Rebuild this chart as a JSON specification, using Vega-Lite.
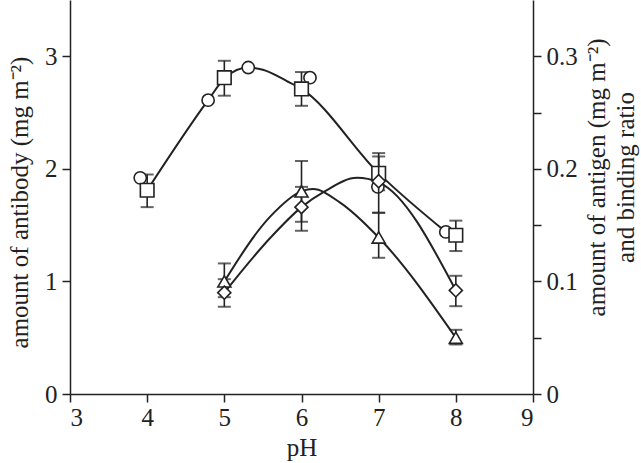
{
  "$schema": "https://vega.github.io/schema/vega-lite/v6.json",
  "width": 463,
  "height": 394,
  "autosize": {"type": "none"},
  "padding": {"left": 70, "top": 0, "right": 108, "bottom": 69},
  "background": "white",
  "config": {
    "view": {"stroke": null},
    "font": "Liberation Serif",
    "axis": {
      "grid": false,
      "domainColor": "#222",
      "domainWidth": 1.5,
      "tickColor": "#222",
      "tickWidth": 1.5,
      "tickSize": 8,
      "labelFont": "Liberation Serif",
      "labelFontSize": 25,
      "labelColor": "#222",
      "labelPadding": 5,
      "titleFont": "Liberation Serif",
      "titleFontSize": 25,
      "titleFontWeight": "normal",
      "titleColor": "#222"
    }
  },
  "datasets": {
    "antibody_sq": [
      {"pH": 4, "v": 1.81, "lo": 1.66, "hi": 1.95},
      {"pH": 5, "v": 2.81, "lo": 2.65, "hi": 2.96},
      {"pH": 6, "v": 2.71, "lo": 2.56, "hi": 2.86},
      {"pH": 7, "v": 1.96, "lo": 1.81, "hi": 2.11},
      {"pH": 8, "v": 1.41, "lo": 1.27, "hi": 1.54}
    ],
    "antibody_circ": [
      {"pH": 3.91, "v": 1.92},
      {"pH": 4.79, "v": 2.61},
      {"pH": 5.31, "v": 2.9},
      {"pH": 6.11, "v": 2.81},
      {"pH": 6.99, "v": 1.84},
      {"pH": 7.87, "v": 1.44}
    ],
    "antibody_curve": [
      {"pH": 4.0, "v": 1.81},
      {"pH": 4.79, "v": 2.61},
      {"pH": 5.01, "v": 2.81},
      {"pH": 5.31, "v": 2.9},
      {"pH": 5.5, "v": 2.88},
      {"pH": 5.81, "v": 2.78},
      {"pH": 6.0, "v": 2.71},
      {"pH": 7.0, "v": 1.96},
      {"pH": 7.87, "v": 1.44}
    ],
    "antigen": [
      {"series": "tri", "pH": 5, "v": 0.1, "lo": 0.086, "hi": 0.116},
      {"series": "tri", "pH": 6, "v": 0.18, "lo": 0.153, "hi": 0.207},
      {"series": "tri", "pH": 7, "v": 0.139, "lo": 0.121, "hi": 0.161},
      {"series": "tri", "pH": 8, "v": 0.05, "lo": 0.044, "hi": 0.057},
      {"series": "dia", "pH": 5, "v": 0.09, "lo": 0.0775, "hi": 0.102},
      {"series": "dia", "pH": 6, "v": 0.166, "lo": 0.145, "hi": 0.184},
      {"series": "dia", "pH": 7, "v": 0.189, "lo": 0.161, "hi": 0.214},
      {"series": "dia", "pH": 8, "v": 0.092, "lo": 0.078, "hi": 0.105}
    ],
    "antigen_curve": [
      {"series": "tri", "pH": 5, "v": 0.1},
      {"series": "tri", "pH": 5.6, "v": 0.158},
      {"series": "tri", "pH": 6.0, "v": 0.18},
      {"series": "tri", "pH": 6.15, "v": 0.182},
      {"series": "tri", "pH": 6.5, "v": 0.17},
      {"series": "tri", "pH": 7.0, "v": 0.139},
      {"series": "tri", "pH": 8.0, "v": 0.05},
      {"series": "dia", "pH": 5, "v": 0.09},
      {"series": "dia", "pH": 5.6, "v": 0.139},
      {"series": "dia", "pH": 6.0, "v": 0.166},
      {"series": "dia", "pH": 6.3, "v": 0.18},
      {"series": "dia", "pH": 6.72, "v": 0.192},
      {"series": "dia", "pH": 7.0, "v": 0.188},
      {"series": "dia", "pH": 8.0, "v": 0.092}
    ]
  },
  "encoding": {
    "x": {
      "field": "pH",
      "type": "quantitative",
      "scale": {"domain": [3, 9], "nice": false, "zero": false},
      "axis": {
        "title": "pH",
        "values": [3, 3.5, 4, 4.5, 5, 5.5, 6, 6.5, 7, 7.5, 8, 8.5, 9],
        "labelExpr": "datum.value % 1 === 0 ? datum.label : ''",
        "format": "d",
        "labelPadding": 3,
        "titleBaseline": "alphabetic",
        "titleY": 61
      }
    }
  },
  "layer": [
    {
      "layer": [
        {
          "data": {"name": "antibody_curve"},
          "mark": {"type": "line", "interpolate": "monotone", "color": "#222", "strokeWidth": 2},
          "encoding": {
            "y": {"field": "v", "type": "quantitative", "scale": {"domain": [0, 3.5], "nice": false},
              "axis": {"title": "amount of antibody (mg m⁻²)", "values": [0, 0.5, 1, 1.5, 2, 2.5, 3], "labelExpr": "datum.value % 1 === 0 ? datum.label : ''", "format": "d", "titleAngle": 270, "titleBaseline": "alphabetic", "titleAlign": "center", "titleX": -43, "titleY": 202}}
          }
        },
        {
          "data": {"name": "antibody_sq"},
          "mark": {"type": "rule", "color": "#222", "strokeWidth": 1.6},
          "encoding": {
            "y": {"field": "lo", "type": "quantitative", "scale": {"domain": [0, 3.5], "nice": false},
              "axis": {"title": "amount of antibody (mg m⁻²)", "values": [0, 0.5, 1, 1.5, 2, 2.5, 3], "labelExpr": "datum.value % 1 === 0 ? datum.label : ''", "format": "d", "titleAngle": 270, "titleBaseline": "alphabetic", "titleAlign": "center", "titleX": -43, "titleY": 202}},
            "y2": {"field": "hi"}
          }
        },
        {
          "data": {"name": "antibody_sq"},
          "mark": {"type": "tick", "orient": "horizontal", "color": "#222", "size": 13, "thickness": 2},
          "encoding": {
            "y": {"field": "lo", "type": "quantitative", "scale": {"domain": [0, 3.5], "nice": false},
              "axis": {"title": "amount of antibody (mg m⁻²)", "values": [0, 0.5, 1, 1.5, 2, 2.5, 3], "labelExpr": "datum.value % 1 === 0 ? datum.label : ''", "format": "d", "titleAngle": 270, "titleBaseline": "alphabetic", "titleAlign": "center", "titleX": -43, "titleY": 202}}
          }
        },
        {
          "data": {"name": "antibody_sq"},
          "mark": {"type": "tick", "orient": "horizontal", "color": "#222", "size": 13, "thickness": 2},
          "encoding": {
            "y": {"field": "hi", "type": "quantitative", "scale": {"domain": [0, 3.5], "nice": false},
              "axis": {"title": "amount of antibody (mg m⁻²)", "values": [0, 0.5, 1, 1.5, 2, 2.5, 3], "labelExpr": "datum.value % 1 === 0 ? datum.label : ''", "format": "d", "titleAngle": 270, "titleBaseline": "alphabetic", "titleAlign": "center", "titleX": -43, "titleY": 202}}
          }
        },
        {
          "data": {"name": "antibody_circ"},
          "mark": {"type": "point", "shape": "circle", "filled": false, "fill": "white", "fillOpacity": 1, "stroke": "#222", "strokeWidth": 1.6, "size": 150, "opacity": 1},
          "encoding": {
            "y": {"field": "v", "type": "quantitative", "scale": {"domain": [0, 3.5], "nice": false},
              "axis": {"title": "amount of antibody (mg m⁻²)", "values": [0, 0.5, 1, 1.5, 2, 2.5, 3], "labelExpr": "datum.value % 1 === 0 ? datum.label : ''", "format": "d", "titleAngle": 270, "titleBaseline": "alphabetic", "titleAlign": "center", "titleX": -43, "titleY": 202}}
          }
        },
        {
          "data": {"name": "antibody_sq"},
          "mark": {"type": "point", "shape": "square", "filled": false, "fill": "white", "fillOpacity": 1, "stroke": "#222", "strokeWidth": 1.6, "size": 185, "opacity": 1},
          "encoding": {
            "y": {"field": "v", "type": "quantitative", "scale": {"domain": [0, 3.5], "nice": false},
              "axis": {"title": "amount of antibody (mg m⁻²)", "values": [0, 0.5, 1, 1.5, 2, 2.5, 3], "labelExpr": "datum.value % 1 === 0 ? datum.label : ''", "format": "d", "titleAngle": 270, "titleBaseline": "alphabetic", "titleAlign": "center", "titleX": -43, "titleY": 202}}
          }
        }
      ]
    },
    {
      "layer": [
        {
          "data": {"name": "antigen_curve"},
          "mark": {"type": "line", "interpolate": "monotone", "color": "#222", "strokeWidth": 2},
          "encoding": {
            "detail": {"field": "series"},
            "y": {"field": "v", "type": "quantitative", "scale": {"domain": [0, 0.35], "nice": false},
              "axis": {"orient": "right", "title": ["amount of antigen (mg m⁻²)", "and binding ratio"], "values": [0, 0.05, 0.1, 0.15, 0.2, 0.25, 0.3], "labelExpr": "indexof([0, 0.1, 0.2, 0.3], datum.value) >= 0 ? datum.label : ''", "format": ".1~f", "titleAngle": 270, "titleBaseline": "alphabetic", "titleAlign": "center", "titleLineHeight": 29, "titleX": 71, "titleY": 177}}
          }
        },
        {
          "data": {"name": "antigen"},
          "mark": {"type": "rule", "color": "#222", "strokeWidth": 1.6},
          "encoding": {
            "y": {"field": "lo", "type": "quantitative", "scale": {"domain": [0, 0.35], "nice": false},
              "axis": {"orient": "right", "title": ["amount of antigen (mg m⁻²)", "and binding ratio"], "values": [0, 0.05, 0.1, 0.15, 0.2, 0.25, 0.3], "labelExpr": "indexof([0, 0.1, 0.2, 0.3], datum.value) >= 0 ? datum.label : ''", "format": ".1~f", "titleAngle": 270, "titleBaseline": "alphabetic", "titleAlign": "center", "titleLineHeight": 29, "titleX": 71, "titleY": 177}},
            "y2": {"field": "hi"}
          }
        },
        {
          "data": {"name": "antigen"},
          "mark": {"type": "tick", "orient": "horizontal", "color": "#222", "size": 13, "thickness": 2},
          "encoding": {
            "y": {"field": "lo", "type": "quantitative", "scale": {"domain": [0, 0.35], "nice": false},
              "axis": {"orient": "right", "title": ["amount of antigen (mg m⁻²)", "and binding ratio"], "values": [0, 0.05, 0.1, 0.15, 0.2, 0.25, 0.3], "labelExpr": "indexof([0, 0.1, 0.2, 0.3], datum.value) >= 0 ? datum.label : ''", "format": ".1~f", "titleAngle": 270, "titleBaseline": "alphabetic", "titleAlign": "center", "titleLineHeight": 29, "titleX": 71, "titleY": 177}}
          }
        },
        {
          "data": {"name": "antigen"},
          "mark": {"type": "tick", "orient": "horizontal", "color": "#222", "size": 13, "thickness": 2},
          "encoding": {
            "y": {"field": "hi", "type": "quantitative", "scale": {"domain": [0, 0.35], "nice": false},
              "axis": {"orient": "right", "title": ["amount of antigen (mg m⁻²)", "and binding ratio"], "values": [0, 0.05, 0.1, 0.15, 0.2, 0.25, 0.3], "labelExpr": "indexof([0, 0.1, 0.2, 0.3], datum.value) >= 0 ? datum.label : ''", "format": ".1~f", "titleAngle": 270, "titleBaseline": "alphabetic", "titleAlign": "center", "titleLineHeight": 29, "titleX": 71, "titleY": 177}}
          }
        },
        {
          "data": {"name": "antigen"},
          "mark": {"type": "point", "filled": false, "fill": "white", "fillOpacity": 1, "stroke": "#222", "strokeWidth": 1.6, "size": 170, "opacity": 1},
          "encoding": {
            "shape": {"field": "series", "type": "nominal", "scale": {"domain": ["tri", "dia"], "range": ["triangle-up", "diamond"]}, "legend": null},
            "y": {"field": "v", "type": "quantitative", "scale": {"domain": [0, 0.35], "nice": false},
              "axis": {"orient": "right", "title": ["amount of antigen (mg m⁻²)", "and binding ratio"], "values": [0, 0.05, 0.1, 0.15, 0.2, 0.25, 0.3], "labelExpr": "indexof([0, 0.1, 0.2, 0.3], datum.value) >= 0 ? datum.label : ''", "format": ".1~f", "titleAngle": 270, "titleBaseline": "alphabetic", "titleAlign": "center", "titleLineHeight": 29, "titleX": 71, "titleY": 177}}
          }
        }
      ]
    }
  ],
  "resolve": {"scale": {"y": "independent"}, "axis": {"y": "independent"}}
}
